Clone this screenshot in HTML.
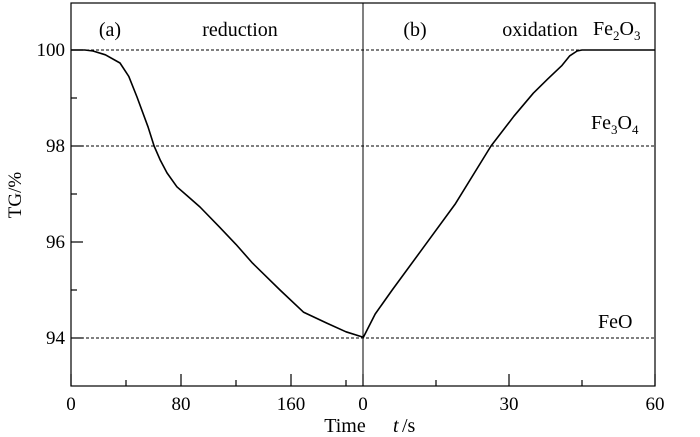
<!DOCTYPE html>
<html><head><meta charset="utf-8"><style>
body{margin:0;background:#fff}
svg{display:block;font-family:"Liberation Serif",serif}
</style></head><body>
<svg id="chart" width="700" height="437">
<g id="g"></g>
</svg>
<script>
const redT=[0,10,16,25,35.6,42,48,56,60.4,65,69.8,77,85,93.8,108,120,132,152,169,186,200,212];
const redTG=[100,100,99.98,99.9,99.73,99.45,99.02,98.4,98,97.7,97.44,97.15,96.95,96.73,96.31,95.95,95.56,95,94.54,94.31,94.13,94.02];
const oxT=[0,2.5,6,12,19,26.3,31,35,38,40.9,42.5,44,45,50,60];
const oxTG=[94,94.5,95.0,95.83,96.8,98,98.62,99.1,99.4,99.68,99.88,99.98,100,100,100];
const yTicks=[94,96,98,100];
const yMinor=[95,97,99];
const redTicks=[0,80,160];
const redMinor=[40,120,200];
const oxTicks=[0,30,60];
const oxMinor=[15,45];
const refLevels=[100,98,94];
const refNames=["Fe2O3","Fe3O4","FeO"];

const L=71,R=655,T=3,B=386,D=363;
const y=v=>50+(100-v)*48;
const xa=t=>L+t*1.375;
const xb=t=>D+t*(R-D)/60;
const NS="http://www.w3.org/2000/svg";
const g=document.getElementById('g');
function el(tag,attrs,name,text){const e=document.createElementNS(NS,tag);for(const k in attrs)e.setAttribute(k,attrs[k]);


if(text!==undefined)e.textContent=text;g.appendChild(e);return e;}
el('rect',{x:L,y:T,width:R-L,height:B-T,fill:'none',stroke:'#000','stroke-width':1.2},'plot-frame');
el('line',{x1:D,y1:T,x2:D,y2:B,stroke:'#000','stroke-width':1},'panel-divider');
refLevels.forEach((v,i)=>{el('line',{x1:L,y1:y(v),x2:R,y2:y(v),stroke:'#000','stroke-width':1.1,'stroke-dasharray':'3,2'},'ref-line-'+refNames[i].toLowerCase());});
yTicks.forEach(v=>{el('line',{x1:L,y1:y(v),x2:L+12,y2:y(v),stroke:'#000','stroke-width':1.2},'y-tick');
el('text',{x:L-6,y:y(v)+6,'font-size':19,'text-anchor':'end'},'y-tick-label',String(v));});
yMinor.forEach(v=>{el('line',{x1:L,y1:y(v),x2:L+6,y2:y(v),stroke:'#000','stroke-width':1.2},'y-minor-tick');});
function xt(list,f,len,lab){list.forEach(t=>{el('line',{x1:f(t),y1:B,x2:f(t),y2:B-len,stroke:'#000','stroke-width':1.2},lab?'x-tick':'x-minor-tick');
if(lab)el('text',{x:f(t),y:410,'font-size':19,'text-anchor':'middle'},'x-tick-label',String(t));});}
xt(redTicks,xa,12,true);xt(redMinor,xa,6,false);xt(oxTicks.slice(1),xb,12,true);xt(oxMinor,xb,6,false);
el('line',{x1:D,y1:B,x2:D,y2:B-12,stroke:'#000','stroke-width':1.2},'x-tick');
el('text',{x:D,y:410,'font-size':19,'text-anchor':'middle'},'x-tick-label','0');
el('path',{d:redT.map((t,i)=>(i?'L':'M')+xa(t).toFixed(1)+','+y(redTG[i]).toFixed(1)).join(''),fill:'none',stroke:'#000','stroke-width':1.6,'stroke-linejoin':'round'},'reduction-curve');
el('path',{d:oxT.map((t,i)=>(i?'L':'M')+xb(t).toFixed(1)+','+y(oxTG[i]).toFixed(1)).join(''),fill:'none',stroke:'#000','stroke-width':1.6,'stroke-linejoin':'round'},'oxidation-curve');
el('text',{x:110,y:36,'font-size':20,'text-anchor':'middle'},'panel-a-label','(a)');
el('text',{x:240,y:36,'font-size':20,'text-anchor':'middle'},'reduction-label','reduction');
el('text',{x:415,y:36,'font-size':20,'text-anchor':'middle'},'panel-b-label','(b)');
el('text',{x:540,y:36,'font-size':20,'text-anchor':'middle'},'oxidation-label','oxidation');
el('text',{x:345,y:432,'font-size':20,'text-anchor':'middle'},'x-axis-title','Time');
el('text',{x:393,y:432,'font-size':20,'font-style':'italic'},'x-axis-var','t');
el('text',{x:402,y:432,'font-size':20},'x-axis-unit',' /s');
el('text',{x:0,y:0,'font-size':19,'text-anchor':'middle',transform:'translate(21,195) rotate(-90)'},'y-axis-title','TG/%');
</script>
<div style="position:absolute;left:0;top:0;width:700px;height:437px;pointer-events:none;font-family:'Liberation Serif',serif;font-size:20px">
<span style="position:absolute;left:593px;top:18px">Fe<sub style="font-size:13px">2</sub>O<sub style="font-size:13px">3</sub></span>
<span style="position:absolute;left:591px;top:112px">Fe<sub style="font-size:13px">3</sub>O<sub style="font-size:13px">4</sub></span>
<span style="position:absolute;left:598px;top:311px">FeO</span>
</div>
</body></html>
